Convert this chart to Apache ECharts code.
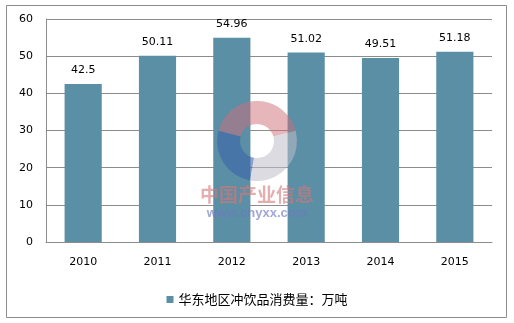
<!DOCTYPE html>
<html><head><meta charset="utf-8">
<script src="https://cdn.jsdelivr.net/npm/echarts@6/dist/echarts.min.js"></script>
<style>html,body{margin:0;padding:0;background:#fff}#c{width:514px;height:323px}</style>
</head><body><div id="c"></div>
<script>
var categories = ['2010','2011','2012','2013','2014','2015'];
var values = [42.5, 50.11, 54.96, 51.02, 49.51, 51.18];
var seriesName = '华东地区冲饮品消费量：万吨';
var yTicks = [0, 10, 20, 30, 40, 50, 60];

var chart = echarts.init(document.getElementById('c'), null, {renderer: 'canvas'});
var font = 'DejaVu Sans';
var d = Math.PI / 180;
chart.setOption({
  animation: false,
  backgroundColor: '#fff',
  grid: {left: 46, right: 22, top: 19, bottom: 81, containLabel: false},
  graphic: [
    {type: 'rect', shape: {x: 6.5, y: 5.5, width: 500, height: 312}, style: {fill: 'none', stroke: '#8c8c8c', lineWidth: 1}, z: 0},
    {type: 'sector', shape: {cx: 257, cy: 141, r: 40, r0: 17, startAngle: -165 * d, endAngle: -15 * d}, style: {fill: 'rgba(205,110,120,0.5)'}, z: 10},
    {type: 'sector', shape: {cx: 257, cy: 141, r: 40, r0: 17, startAngle: 100 * d, endAngle: 195 * d}, style: {fill: 'rgba(60,100,170,0.6)'}, z: 10},
    {type: 'sector', shape: {cx: 257, cy: 141, r: 40, r0: 17, startAngle: -15 * d, endAngle: 100 * d}, style: {fill: 'rgba(190,190,200,0.55)'}, z: 10},
    {type: 'text', style: {x: 257, y: 195, text: '中国产业信息', fill: 'rgba(210,120,120,0.6)', font: 'bold 19px "Noto Sans CJK SC"', align: 'center', verticalAlign: 'middle'}, z: 10},
    {type: 'text', style: {x: 257, y: 213, text: 'www.chyxx.com', fill: 'rgba(110,120,190,0.65)', font: 'bold 13px "Liberation Sans"', align: 'center', verticalAlign: 'middle'}, z: 10}
  ],
  legend: {
    bottom: 12, left: 'center', itemWidth: 7, itemHeight: 7, itemGap: 4,
    icon: 'rect',
    textStyle: {fontFamily: '"Noto Sans CJK SC"', fontSize: 13, color: '#000'},
    data: [seriesName]
  },
  xAxis: {
    type: 'category', data: categories,
    axisLine: {show: true, lineStyle: {color: '#8c8c8c'}},
    axisTick: {show: false},
    axisLabel: {margin: 15, fontFamily: font, fontSize: 11, color: '#000'}
  },
  yAxis: {
    type: 'value', min: yTicks[0], max: yTicks[yTicks.length - 1], interval: 10,
    axisLine: {show: true, lineStyle: {color: '#8c8c8c'}},
    axisTick: {show: false},
    axisLabel: {margin: 13, fontFamily: font, fontSize: 11, color: '#000'},
    splitLine: {show: true, lineStyle: {color: '#8c8c8c', width: 1}}
  },
  series: [{
    name: seriesName, type: 'bar', data: values, barWidth: '50%',
    itemStyle: {color: '#5b8fa6'},
    label: {show: true, position: 'top', distance: 8, fontFamily: font, fontSize: 11, color: '#000'}
  }]
});
</script></body></html>
